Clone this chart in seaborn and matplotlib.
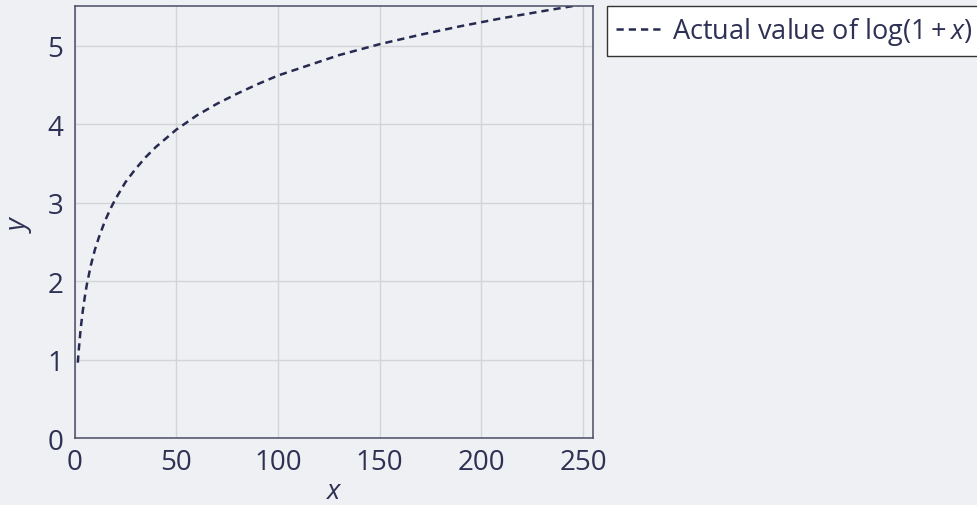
import numpy as np
import pandas as pd
import matplotlib.pyplot as plt
import seaborn as sns

# values
x_vals = [1.6, 2, 3, 4, 5, 6, 8, 10, 12, 15, 18, 20, 25, 30, 35, 40, 50, 60, 70, 80,
          90, 100, 115, 130, 150, 170, 190, 210, 230, 255]
y_vals = [0.96, 1.10, 1.39, 1.61, 1.79, 1.95, 2.20, 2.40, 2.56, 2.77, 2.94, 3.04,
          3.26, 3.43, 3.58, 3.71, 3.93, 4.11, 4.26, 4.39, 4.51, 4.62, 4.75, 4.88,
          5.02, 5.14, 5.25, 5.35, 5.44, 5.55]
x_ticks = [0, 50, 100, 150, 200, 250]
y_ticks = [0, 1, 2, 3, 4, 5]
series_label = r'Actual value of $\log(1+x)$'

bg = '#eff0f3'
ink = '#2e3154'

sns.set_theme(style='whitegrid')
plt.rcParams['font.family'] = ['Open Sans', 'DejaVu Sans']
plt.rcParams['mathtext.fontset'] = 'custom'
plt.rcParams['mathtext.rm'] = 'Open Sans'
plt.rcParams['mathtext.it'] = 'Open Sans:italic'

df = pd.DataFrame({'x': x_vals, 'y': y_vals})

fig = plt.figure(figsize=(9.77, 5.06), dpi=100, facecolor=bg)
ax = fig.add_axes([0.0763, 0.1324, 0.5310, 0.8528])
ax.set_facecolor(bg)

sns.lineplot(data=df, x='x', y='y', ax=ax, color='#272a50', linewidth=1.8,
             linestyle=(0, (2.9, 2.0)), label=series_label)

ax.set_xlim(0, 255)
ax.set_ylim(0, 5.5)
ax.set_xticks(x_ticks)
ax.set_yticks(y_ticks)
ax.grid(True, color='#d3d4d7', linewidth=1.0)
ax.tick_params(direction='in', length=7, width=1, color='#a4a5ab',
               labelsize=20, labelcolor=ink)
ax.tick_params(axis='x', pad=7)
ax.tick_params(axis='y', pad=8)
for s in ax.spines.values():
    s.set_color('#4a4c66')
    s.set_linewidth(1.1)

ax.set_xlabel('$x$', fontsize=20, color=ink, labelpad=1)
ax.set_ylabel('$y$', fontsize=20, color=ink, labelpad=10)

leg = ax.legend(loc='upper left', bbox_to_anchor=(1.027, 1.0), fontsize=19.5,
                frameon=True, fancybox=False, framealpha=1, facecolor='white',
                edgecolor='#333333', handlelength=1.75, handletextpad=0.3,
                borderpad=0.33, borderaxespad=0)
for t in leg.get_texts():
    t.set_color(ink)
leg.get_frame().set_linewidth(1.0)

fig.savefig('out.png', dpi=100, facecolor=bg)
